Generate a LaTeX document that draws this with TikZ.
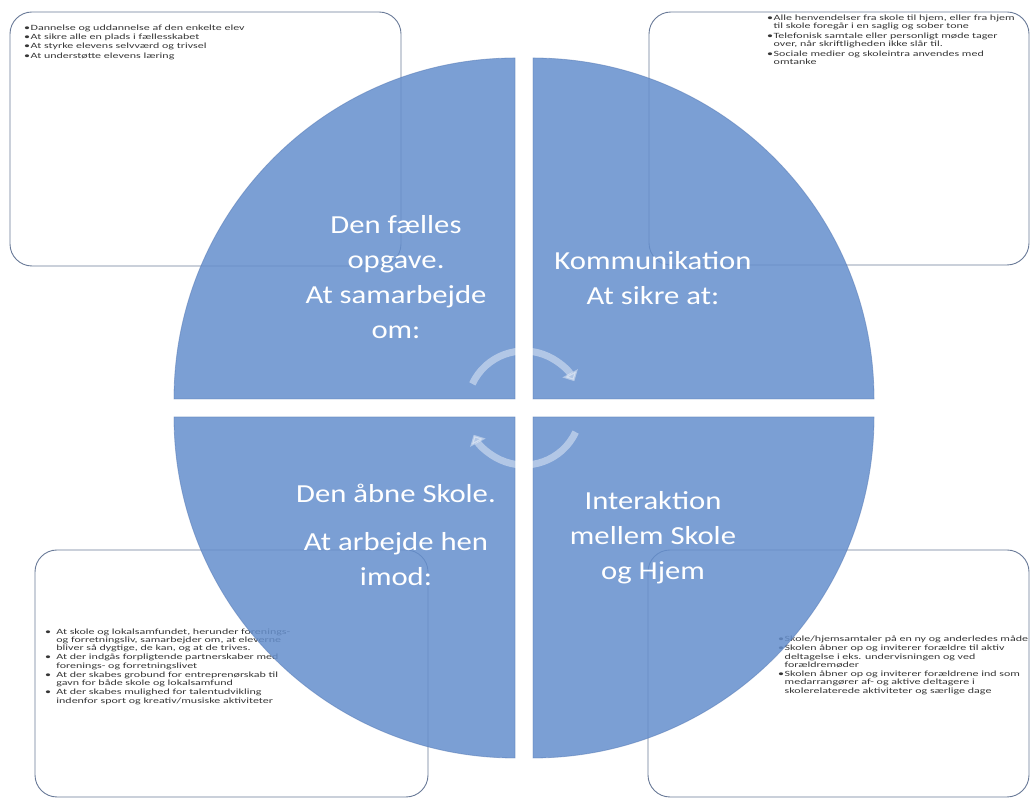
\documentclass[tikz,border=0pt]{standalone}
\usepackage{fontspec}
\setmainfont{Carlito}
\newfontfamily\labelfont[FakeStretch=1.18]{Carlito}
\newfontfamily\notefont[FakeStretch=1.5]{Carlito}
\usetikzlibrary{arrows.meta}

\definecolor{quadblue}{RGB}{101,143,205}
\definecolor{quadedge}{RGB}{84,120,180}
\definecolor{boxline}{RGB}{105,122,152}
\definecolor{notegray}{RGB}{55,55,55}

\newcommand{\bitem}[1][6.5pt]{\makebox[#1][l]{\textbullet}}
\newcommand{\bcont}[1][6.5pt]{\hspace*{#1}}

\tikzset{
	infobox/.style={draw=boxline, line width=0.9pt, rounded corners=22pt},
	quad/.style={fill=quadblue, fill opacity=0.85, draw=quadedge, draw opacity=0.5, line width=0.8pt},
	bigtxt/.style={text=white, align=center, font=\labelfont\fontsize{26}{35}\selectfont},
	notetxt/.style={anchor=base west, inner sep=0pt, text=notegray, font=\notefont\fontsize{8}{8.4}\selectfont},
	cyclearrow/.style={draw=white, opacity=0.42, line width=7pt, -{Triangle[width=17pt, length=9pt]}}
}

\begin{document}
\begin{tikzpicture}[x=1pt, y=1pt]
	\useasboundingbox[fill=white] (0,0) rectangle (1031,799);

	\draw[infobox] (10,533) rectangle (401,787);
	\draw[infobox] (649,534) rectangle (1029,787);
	\draw[infobox] (35,2) rectangle (428,249);
	\draw[infobox] (648,2) rectangle (1029,249);

	\node[notetxt, font=\notefont\fontsize{8}{9.3}\selectfont] (noteTL) at (24,768.8) {\parbox[t]{260pt}{\raggedright
		\bitem Dannelse og uddannelse af den enkelte elev\\
		\bitem At sikre alle en plads i fællesskabet\\
		\bitem At styrke elevens selvværd og trivsel\\
		\bitem At understøtte elevens læring}};
	\node[notetxt] (noteTR) at (767,778.8) {\parbox[t]{260pt}{\raggedright
		\bitem Alle henvendelser fra skole til hjem, eller fra hjem\\
		\bcont til skole foregår i en saglig og sober tone\\[1.3pt]
		\bitem Telefonisk samtale eller personligt møde tager\\
		\bcont over, når skriftligheden ikke slår til.\\[1.3pt]
		\bitem Sociale medier og skoleintra anvendes med\\
		\bcont omtanke}};
	\node[notetxt] (noteBL) at (45,164.8) {\parbox[t]{260pt}{\raggedright
		\bitem[8.5pt] At skole og lokalsamfundet, herunder forenings-\\
		\bcont[8.5pt] og forretningsliv, samarbejder om, at eleverne\\
		\bcont[8.5pt] bliver så dygtige, de kan, og at de trives.\\[0.6pt]
		\bitem[8.5pt] At der indgås forpligtende partnerskaber med\\
		\bcont[8.5pt] forenings- og forretningslivet\\[0.6pt]
		\bitem[8.5pt] At der skabes grobund for entreprenørskab til\\
		\bcont[8.5pt] gavn for både skole og lokalsamfund\\[0.6pt]
		\bitem[8.5pt] At der skabes mulighed for talentudvikling\\
		\bcont[8.5pt] indenfor sport og kreativ/musiske aktiviteter}};
	\node[notetxt] (noteBR) at (778,157.1) {\parbox[t]{260pt}{\raggedright
		\bitem Skole/hjemsamtaler på en ny og anderledes måde\\[0.5pt]
		\bitem Skolen åbner op og inviterer forældre til aktiv\\
		\bcont deltagelse i eks. undervisningen og ved\\
		\bcont forældremøder\\[0.5pt]
		\bitem Skolen åbner op og inviterer forældrene ind som\\
		\bcont medarrangører af- og aktive deltagere i\\
		\bcont skolerelaterede aktiviteter og særlige dage}};

	\path[quad] (515,400) -- (174,400) arc[start angle=180, end angle=90, radius=341] -- cycle;
	\path[quad] (533,400) -- (533,741) arc[start angle=90, end angle=0, radius=341] -- cycle;
	\path[quad] (515,382) -- (515,41) arc[start angle=270, end angle=180, radius=341] -- cycle;
	\path[quad] (533,382) -- (874,382) arc[start angle=0, end angle=-90, radius=341] -- cycle;

	\coordinate (hub) at (524,391);
	\draw[cyclearrow] ([shift={(155:57)}]hub) arc[start angle=155, end angle=28, radius=57];
	\draw[cyclearrow] ([shift={(-25:57)}]hub) arc[start angle=-25, end angle=-152, radius=57];

	\node[bigtxt] (lblTL) at (396,522) {Den fælles\\ opgave.\\ At samarbejde\\ om:};
	\node[bigtxt] (lblTR) at (653,521) {Kommunikation\\ At sikre at:};
	\node[bigtxt] (lblBL) at (396,264) {Den åbne Skole.\\[13pt] At arbejde hen\\ imod:};
	\node[bigtxt] (lblBR) at (653,261.5) {Interaktion\\ mellem Skole\\ og Hjem};
\end{tikzpicture}
\end{document}
